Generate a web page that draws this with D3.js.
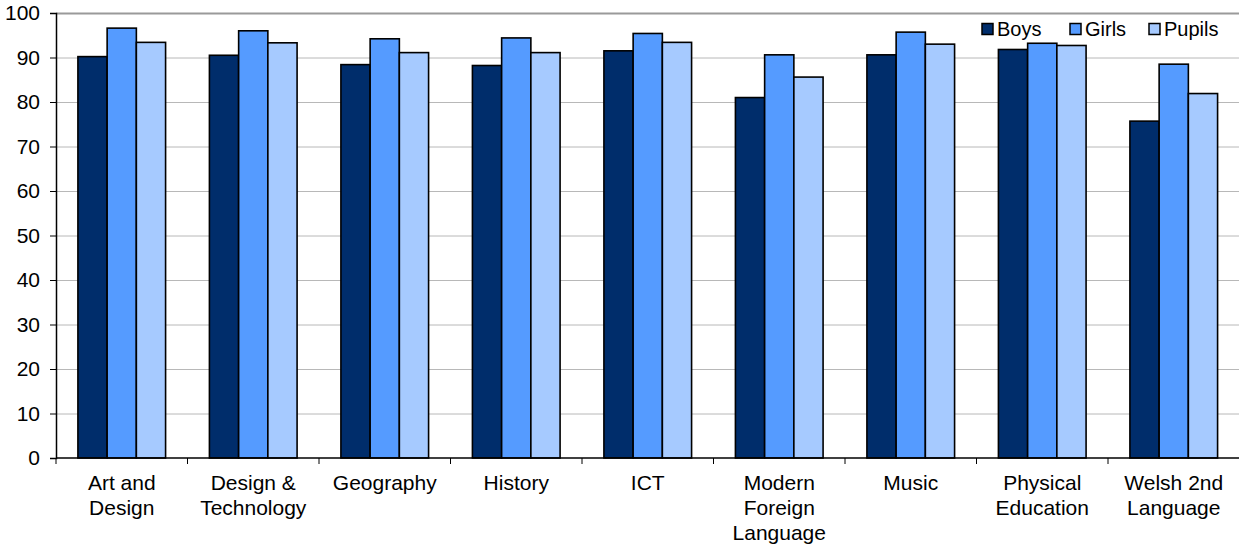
<!DOCTYPE html>
<html><head><meta charset="utf-8">
<script src="https://cdn.jsdelivr.net/npm/d3@7"></script>
<style>body{margin:0;background:#fff}svg{display:block;font-family:"Liberation Sans",Arial,sans-serif}</style>
</head><body><svg id="c" width="1239" height="548"></svg>
<script>
const categories = [["Art and","Design"],["Design &","Technology"],["Geography"],["History"],["ICT"],["Modern","Foreign","Language"],["Music"],["Physical","Education"],["Welsh 2nd","Language"]];
const seriesNames = ["Boys","Girls","Pupils"];
const boys   = [90.2, 90.5, 88.4, 88.2, 91.5, 81.0, 90.6, 91.8, 75.7];
const girls  = [96.6, 96.0, 94.2, 94.4, 95.4, 90.6, 95.7, 93.2, 88.5];
const pupils = [93.4, 93.3, 91.1, 91.1, 93.4, 85.6, 93.0, 92.7, 81.9];
const yTicks = [0,10,20,30,40,50,60,70,80,90,100];
const colors = ["#002D6B","#559BFF","#A6CAFF"];

const svg = d3.select("#c");
const L = 56, R = 1239.5, T = 13, B = 458;
const x = d3.scaleBand().domain(categories.map((d,i)=>i)).range([L,R]).paddingInner(0).paddingOuter(0);
const y = d3.scaleLinear().domain([0,100]).range([B,T]);
const bw = x.bandwidth()/4.5;

// gridlines
svg.append("g").selectAll("line").data(yTicks.filter(t=>t>0)).join("line")
  .attr("x1",L).attr("x2",1239).attr("y1",d=>y(d)+0.5).attr("y2",d=>y(d)+0.5)
  .attr("stroke",d=>d===100?"#9a9a9a":"#b8b8b8").attr("stroke-width",d=>d===100?2:1);

// y axis
const ya = svg.append("g").attr("transform",`translate(${L},0)`)
  .call(d3.axisLeft(y).tickValues(yTicks).tickSize(6).tickPadding(10));
ya.select(".domain").attr("stroke","#000").attr("stroke-width",1.5);
ya.selectAll(".tick line").attr("stroke","#000");
ya.selectAll("text").attr("font-size",21).attr("fill","#000").attr("font-family","Liberation Sans, Arial, sans-serif");

// bars
const series = [boys,girls,pupils];
series.forEach((vals,si)=>{
  svg.append("g").selectAll("rect").data(vals).join("rect")
    .attr("x",(d,i)=>x(i)+bw*0.75+si*bw)
    .attr("y",d=>y(d))
    .attr("width",bw).attr("height",d=>B-y(d))
    .attr("fill",colors[si]).attr("stroke","#000").attr("stroke-width",1.6);
});

// x axis
const xa = svg.append("g").attr("transform",`translate(0,${B})`);
xa.append("line").attr("x1",L).attr("x2",1239).attr("y1",0).attr("y2",0).attr("stroke","#000").attr("stroke-width",1.5);
xa.selectAll("line.t").data(d3.range(categories.length+1)).join("line").attr("class","t")
  .attr("x1",i=>L+i*x.step()).attr("x2",i=>L+i*x.step()).attr("y1",0).attr("y2",6).attr("stroke","#000");
const lab = xa.selectAll("text").data(categories).join("text")
  .attr("text-anchor","middle").attr("font-size",21).attr("fill","#000")
  .attr("transform",(d,i)=>`translate(${x(i)+x.bandwidth()/2},0)`);
lab.selectAll("tspan").data(d=>d).join("tspan").attr("x",0).attr("y",(d,j)=>32+j*25).text(d=>d);

// legend
const lx = [982,1070,1149];
const lg = svg.append("g");
seriesNames.forEach((n,i)=>{
  lg.append("rect").attr("x",lx[i]).attr("y",23.5).attr("width",11).attr("height",11)
    .attr("fill",colors[i]).attr("stroke","#000").attr("stroke-width",1.5);
  lg.append("text").attr("x",lx[i]+15).attr("y",35.5).attr("font-size",20).attr("fill","#000").text(n);
});
</script></body></html>
